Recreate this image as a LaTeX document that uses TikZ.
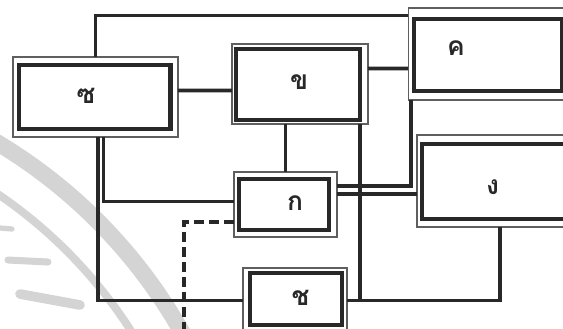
\documentclass[tikz,border=0pt]{standalone}
\usepackage{fontspec}
\newfontfamily\thaifont[Script=Thai]{Loma}
\usetikzlibrary{calc}
\definecolor{inkgray}{RGB}{40,40,40}
\definecolor{framegray}{RGB}{95,95,95}
\definecolor{markgray}{RGB}{212,212,212}

\begin{document}
\begin{tikzpicture}[x=0.02cm, y=-0.02cm, font=\thaifont\bfseries\fontsize{15}{15}\selectfont,
  frame/.style={draw=framegray, line width=0.6pt, inner sep=0pt, outer sep=0pt},
  heavy/.style={draw=inkgray, line width=2.8pt},
  wire/.style={draw=inkgray, line width=2pt},
  dashwire/.style={draw=inkgray, line width=2.4pt, dash pattern=on 0.2cm off 0.1cm},
  wmark/.style={draw=markgray, line cap=round},
  lbl/.style={text=inkgray}]
  \useasboundingbox (0,0) rectangle (563,328);
  \clip (0,0) rectangle (563,328);

  % faint watermark behind the chart
  \draw[wmark, line width=9.5pt] (-269,587) ++(-64:518) arc[start angle=-64, end angle=-24, radius=518];
  \draw[wmark, line width=4.5pt] (-269,587) ++(-64:475) arc[start angle=-64, end angle=-24, radius=475];
  \draw[wmark, line width=4pt] (8,260) -- (48,262);
  \draw[wmark, line width=5.5pt] (20,294) -- (80,305);
  \draw[wmark, line width=3pt] (0,228) -- (12,229);

  % --- frames (outer thin boxes) ---
  \node[frame, minimum width=3.3cm, minimum height=1.6cm, label={[lbl, shift={(-9.5,-1.5)}]center:ซ}] (zs) at (95.5,97) {};
  \node[frame, minimum width=2.72cm, minimum height=1.6cm, label={[lbl, shift={(-1,-1.5)}]center:ข}] (kh) at (300,84) {};
  \node[frame, minimum width=3.28cm, minimum height=1.84cm, label={[lbl, shift={(-34,-5.5)}]center:ค}] (kk) at (490,54) {};
  \node[frame, minimum width=3.16cm, minimum height=1.84cm, label={[lbl, shift={(-3.5,6.5)}]center:ง}] (ng) at (496,181) {};
  \node[frame, minimum width=2.06cm, minimum height=1.3cm, label={[lbl, shift={(9.5,-1)}]center:ก}] (ko) at (285.5,204.5) {};
  \node[frame, minimum width=2.08cm, minimum height=1.44cm, label={[lbl, shift={(5.5,-6.5)}]center:ช}] (ch) at (295,304) {};

  % --- heavy inner boxes ---
  \draw[heavy] ([shift={(6,8)}]zs.north west) rectangle ([shift={(-7.5,-8)}]zs.south east);
  \draw[heavy] ([shift={(4,5)}]kh.north west) rectangle ([shift={(-8,-4)}]kh.south east);
  \draw[heavy] ([shift={(6,11)}]kk.north west) rectangle ([shift={(-10,-9)}]kk.south east);
  \draw[heavy] ([shift={(5,9)}]ng.north west) rectangle ([shift={(10,-8)}]ng.south east);
  \draw[heavy] ([shift={(5,7)}]ko.north west) rectangle ([shift={(-8,-7)}]ko.south east);
  \draw[heavy] ([shift={(7,5)}]ch.north west) rectangle ([shift={(-5,-15)}]ch.south east);

  % --- ports ---
  \coordinate (ko-up) at ([shift={(0,-18.5)}]ko.east);
  \coordinate (ko-dn) at ([shift={(0,-10.5)}]ko.east);
  \coordinate (ko-dash) at ([shift={(0,17.5)}]ko.west);
  \coordinate (ch-out) at ([shift={(0,-3.5)}]ch.east);
  \coordinate (kh-tap) at ([shift={(-8,0)}]kh.south east);
  \coordinate (dash-end) at (184,335);

  % top row
  \draw[wire] (zs.north) |- ([shift={(0,7.5)}]kk.north west);
  \draw[wire] ([shift={(0,-6.5)}]zs.east) -- ([shift={(0,6.5)}]kh.west);
  \draw[wire] ([shift={(0,-15.5)}]kh.east) -- ([shift={(0,14.5)}]kk.west);
  \draw[wire] (kh.south -| ko.north) -- (ko.north);

  % right side
  \draw[wire] (ko-up) -| ([shift={(3,0)}]kk.south west);
  \draw[wire] (ko-dn) -- (ko-dn -| ng.west);
  \draw[wire] (ch-out) -| ([shift={(4,0)}]ng.south);
  \draw[wire] (kh-tap) -- (kh-tap |- ch-out);

  % left side
  \draw[wire] ([shift={(8,0)}]zs.south) |- ([shift={(0,-3)}]ko.west);
  \draw[wire] ([shift={(2.5,0)}]zs.south) |- ([shift={(0,-3.5)}]ch.west);
  \draw[dashwire] (ko-dash) -| (dash-end);
\end{tikzpicture}
\end{document}
